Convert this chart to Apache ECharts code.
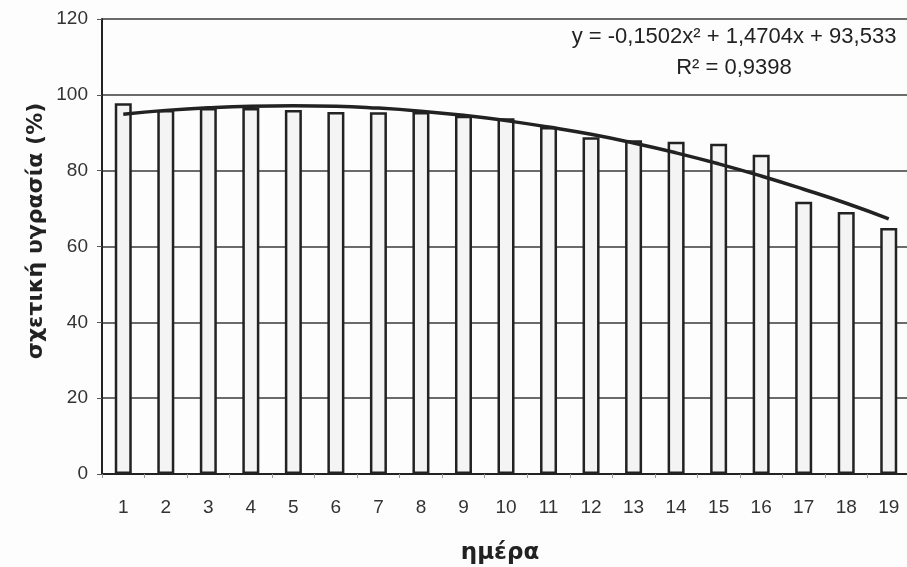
<!DOCTYPE html>
<html>
<head>
<meta charset="utf-8">
<script src="https://cdn.jsdelivr.net/npm/echarts@6/dist/echarts.min.js"></script>
<style>
html,body{margin:0;padding:0;background:#fdfdfd;}
#c{width:907px;height:567px;}
</style>
</head>
<body>
<div id="c"></div>
<script>
const days = ['1','2','3','4','5','6','7','8','9','10','11','12','13','14','15','16','17','18','19'];
const humidity = [97.8, 96, 96.5, 96.5, 96, 95.5, 95.4, 95.5, 94.5, 93.8, 91.5, 88.8, 88, 87.6, 87.1, 84.2, 71.8, 69.1, 64.9];
const trend = [94.9, 95.9, 96.6, 97.0, 97.1, 97.0, 96.5, 95.7, 94.6, 93.2, 91.5, 89.6, 87.3, 84.7, 81.8, 78.6, 75.1, 71.4, 67.3];
const yTicks = [0, 20, 40, 60, 80, 100, 120];
const equationText = 'y = -0,1502x² + 1,4704x + 93,533';
const r2Text = 'R² = 0,9398';
const xTitle = 'ημέρα';
const yTitle = 'σχετική υγρασία (%)';

const chart = echarts.init(document.getElementById('c'), null, {renderer: 'canvas'});
chart.setOption({
  backgroundColor: '#fdfdfd',
  animation: false,
  grid: {left: 102, top: 19, width: 808, height: 455, containLabel: false, outerBoundsMode: 'none'},
  xAxis: {
    type: 'category',
    data: days,
    boundaryGap: true,
    axisLine: {lineStyle: {color: '#222', width: 2}},
    axisTick: {show: true, length: 4, lineStyle: {color: '#999', width: 1}},
    axisLabel: {color: '#333', fontFamily: 'Liberation Sans', fontSize: 19, margin: 24}
  },
  yAxis: {
    type: 'value',
    min: yTicks[0],
    max: yTicks[yTicks.length - 1],
    interval: 20,
    axisLine: {show: true, lineStyle: {color: '#222', width: 2}},
    axisTick: {show: true, length: 5, lineStyle: {color: '#555', width: 1}},
    axisLabel: {color: '#333', fontFamily: 'Liberation Sans', fontSize: 19, margin: 14},
    splitLine: {show: true, lineStyle: {color: '#3a3a3a', width: 1.5}}
  },
  series: [
    {
      type: 'bar',
      data: humidity,
      barWidth: 17,
      itemStyle: {color: '#f4f4f4', borderColor: '#222', borderWidth: 2.5},
      z: 2
    },
    {
      type: 'line',
      data: trend,
      smooth: true,
      showSymbol: false,
      lineStyle: {color: '#222', width: 3.5},
      z: 3
    }
  ],
  graphic: [
    {
      type: 'text',
      x: 36, y: 231,
      rotation: Math.PI / 2,
      style: {text: yTitle, font: 'bold 22px "DejaVu Sans"', fill: '#222', align: 'center', verticalAlign: 'middle'}
    },
    {
      type: 'text',
      x: 500, y: 553,
      style: {text: xTitle, font: 'bold 23px "DejaVu Sans"', fill: '#222', align: 'center', verticalAlign: 'middle'}
    },
    {
      type: 'text',
      x: 734, y: 37,
      style: {text: equationText, font: '22px "Liberation Sans"', fill: '#222', align: 'center', verticalAlign: 'middle'}
    },
    {
      type: 'text',
      x: 734, y: 68,
      style: {text: r2Text, font: '22px "Liberation Sans"', fill: '#222', align: 'center', verticalAlign: 'middle'}
    }
  ]
});
</script>
</body>
</html>
